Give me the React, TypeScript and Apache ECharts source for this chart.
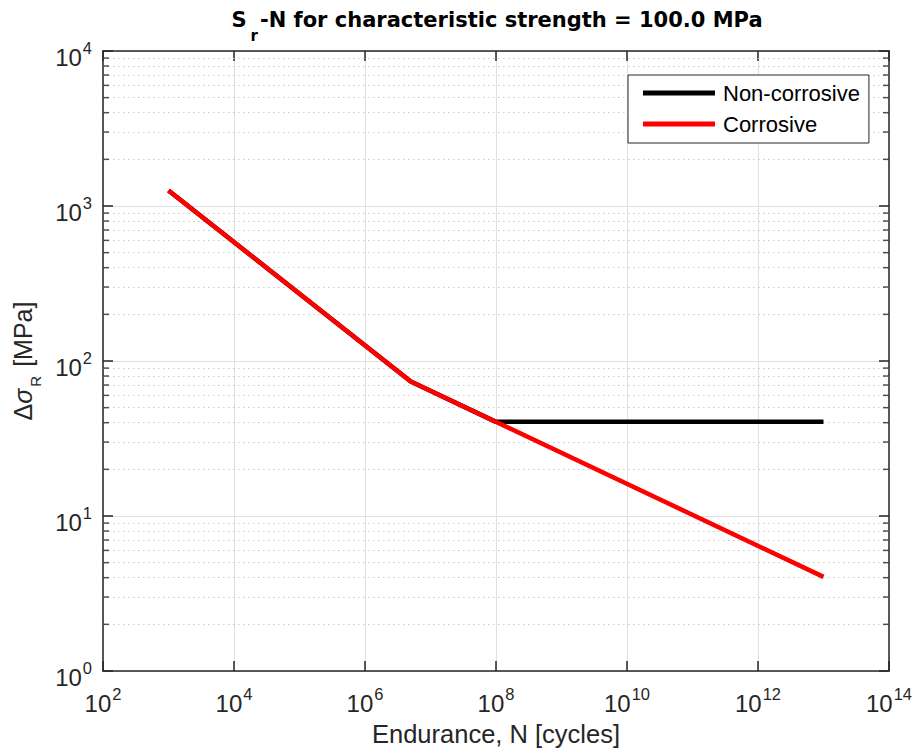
import React, { useEffect, useRef } from "react";
import * as echarts from "echarts";

// ---- data ----
const enduranceNonCorrosive = [1e3, 5e6, 1e8, 1e13];
const stressNonCorrosive = [1260, 73.7, 40.5, 40.5];
const enduranceCorrosive = [1e3, 5e6, 1e13];
const stressCorrosive = [1260, 73.7, 4.05];
const seriesNames = ["Non-corrosive", "Corrosive"];
const yMinorTicks = [
  2, 3, 4, 5, 6, 7, 8, 9,
  20, 30, 40, 50, 60, 70, 80, 90,
  200, 300, 400, 500, 600, 700, 800, 900,
  2000, 3000, 4000, 5000, 6000, 7000, 8000, 9000,
];

const FONT = '"Liberation Sans", Arial, Helvetica, sans-serif';
const TITLE_FONT = '"DejaVu Sans", "Liberation Sans", Arial, sans-serif';
const TXT = "#262626";

const powRich = {
  b: { fontFamily: FONT, fontSize: 24, color: TXT, lineHeight: 24, padding: [12, 0, 0, 0] },
  s: { fontFamily: FONT, fontSize: 16.5, color: TXT, lineHeight: 16, padding: [0, 0, 0, 1], verticalAlign: "top" },
};
const powFormatter = (v: number) => {
  const e = Math.round(Math.log10(v));
  return `{b|10}{s|${e}}`;
};

export default function App() {
  const ref = useRef<HTMLDivElement>(null);
  useEffect(() => {
    if (!ref.current) return;
    const chart = echarts.init(ref.current, null, { renderer: "svg" });
    const axisLine = { show: true, lineStyle: { color: TXT, width: 1.5 } };
    const axisTick = { show: true, inside: true, length: 10, lineStyle: { color: TXT, width: 1.5 } };
    const option: any = {
      animation: false,
      backgroundColor: "#ffffff",
      title: {
        text: "{b|S}{sub|r}{b|-N for characteristic strength = 100.0 MPa}",
        left: 497,
        top: 9,
        padding: 0,
        textAlign: "center",
        textStyle: {
          rich: {
            b: {
              fontFamily: TITLE_FONT,
              fontWeight: "bold",
              fontSize: 21,
              color: "#000",
              lineHeight: 34,
              verticalAlign: "top",
            },
            sub: {
              fontFamily: TITLE_FONT,
              fontWeight: "bold",
              fontSize: 15,
              color: "#000",
              lineHeight: 15,
              padding: [0, 2, 0, 4],
              verticalAlign: "bottom",
            },
          },
        },
      },
      grid: { left: 103, right: 25, top: 51, bottom: 83 },
      legend: {
        data: seriesNames,
        orient: "vertical",
        left: 628,
        top: 75,
        icon: "rect",
        itemWidth: 72,
        itemHeight: 5,
        itemGap: 7,
        padding: [6, 9, 7, 15],
        borderColor: TXT,
        borderWidth: 1,
        backgroundColor: "#ffffff",
        selectedMode: false,
        textStyle: { fontFamily: FONT, fontSize: 22, color: "#000", lineHeight: 24, padding: [0, 0, 0, 3] },
      },
      xAxis: [
        {
          type: "log",
          logBase: 10,
          min: 1e2,
          max: 1e14,
          interval: 2,
          position: "bottom",
          axisLine,
          axisTick,
          axisLabel: { formatter: powFormatter, margin: 14, rich: powRich },
          splitLine: { show: true, lineStyle: { color: "#e0e0e0", width: 1 } },
          name: "Endurance, N [cycles]",
          nameLocation: "middle",
          nameGap: 50,
          nameTextStyle: { fontFamily: FONT, fontSize: 25.5, color: TXT, lineHeight: 26 },
        },
        {
          type: "log",
          logBase: 10,
          min: 1e2,
          max: 1e14,
          interval: 2,
          position: "top",
          axisLine,
          axisTick,
          axisLabel: { show: false },
          splitLine: { show: false },
        },
      ],
      yAxis: [
        {
          type: "log",
          logBase: 10,
          min: 1,
          max: 1e4,
          interval: 1,
          position: "left",
          axisLine,
          axisTick,
          axisLabel: { formatter: powFormatter, margin: 11, rich: powRich },
          splitLine: { show: true, lineStyle: { color: "#e0e0e0", width: 1 } },
          name: "{n|Δ}{i|σ}{sub|R}{n| [MPa]}",
          nameLocation: "middle",
          nameGap: 60,
          nameTextStyle: {
            rich: {
              n: { fontFamily: FONT, fontSize: 25, color: TXT, lineHeight: 33, verticalAlign: "top" },
              i: { fontFamily: FONT, fontSize: 25, color: TXT, fontStyle: "italic", lineHeight: 33, verticalAlign: "top" },
              sub: {
                fontFamily: FONT,
                fontSize: 15,
                color: TXT,
                lineHeight: 15,
                padding: [0, 2, 0, 2],
                verticalAlign: "bottom",
              },
            },
          },
        },
        {
          type: "log",
          logBase: 10,
          min: 1,
          max: 1e4,
          interval: 1,
          position: "right",
          axisLine,
          axisTick,
          axisLabel: { show: false },
          splitLine: { show: false },
        },
      ],
      series: [
        {
          name: seriesNames[0],
          type: "line",
          xAxisIndex: 0,
          yAxisIndex: 0,
          symbol: "none",
          silent: true,
          z: 3,
          lineStyle: { color: "#000000", width: 4.5 },
          itemStyle: { color: "#000000" },
          data: enduranceNonCorrosive.map((x, i) => [x, stressNonCorrosive[i]]),
          markLine: {
            silent: true,
            z: 1,
            symbol: ["none", "none"],
            label: { show: false },
            emphasis: { disabled: true },
            lineStyle: { color: "#c8c8c8", width: 1, type: [1.5, 3.5] },
            data: yMinorTicks.map((v) => ({ yAxis: v })),
          },
        },
        {
          name: seriesNames[1],
          type: "line",
          xAxisIndex: 0,
          yAxisIndex: 0,
          symbol: "none",
          silent: true,
          z: 4,
          lineStyle: { color: "#ff0000", width: 4.5 },
          itemStyle: { color: "#ff0000" },
          data: enduranceCorrosive.map((x, i) => [x, stressCorrosive[i]]),
        },
        {
          name: "minorLeft",
          type: "scatter",
          silent: true,
          clip: false,
          z: 5,
          symbol: "rect",
          symbolSize: [6, 1.5],
          symbolOffset: [3, 0],
          itemStyle: { color: TXT },
          data: yMinorTicks.map((v) => [1e2, v]),
        },
        {
          name: "minorRight",
          type: "scatter",
          silent: true,
          clip: false,
          z: 5,
          symbol: "rect",
          symbolSize: [6, 1.5],
          symbolOffset: [-3, 0],
          itemStyle: { color: TXT },
          data: yMinorTicks.map((v) => [1e14, v]),
        },
      ],
    };
    chart.setOption(option);
    return () => chart.dispose();
  }, []);
  return (
    <div
      ref={ref}
      style={{ position: "absolute", left: 0, top: 0, width: 915, height: 754 }}
    />
  );
}
